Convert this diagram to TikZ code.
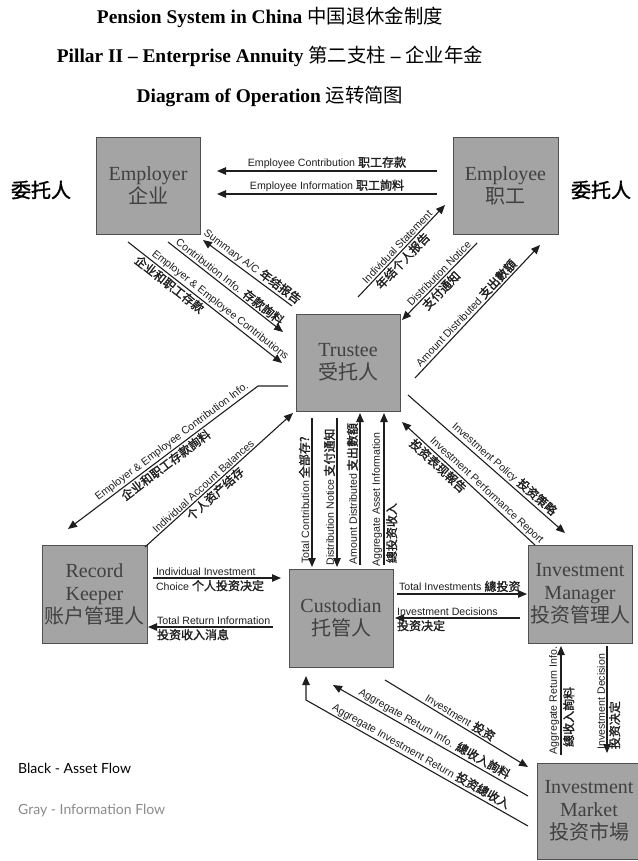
\documentclass[tikz,border=0pt]{standalone}
\usepackage{fontspec}
\setmainfont{Liberation Serif}
\newfontfamily\cjk{Noto Sans CJK SC}
\newfontfamily\cjkb[FakeBold=1.6]{Noto Sans CJK SC}
\newfontfamily\arialf{Liberation Sans}
\newfontfamily\legendf{Lato}
\usetikzlibrary{arrows.meta}
\definecolor{boxfill}{HTML}{A4A4A4}
\definecolor{boxborder}{HTML}{505050}
\definecolor{boxtext}{HTML}{404040}
\definecolor{ink}{HTML}{1E1E1E}
\definecolor{legendgray}{HTML}{8A8A8A}
\newcommand\zh[1]{{\cjkb\fontsize{12}{14}\selectfont #1}}
\newcommand\bzh[1]{{\cjk\mdseries #1}}
\begin{document}
\begin{tikzpicture}[x=1pt,y=-1pt,
  box/.style={draw=boxborder, line width=1pt, fill=boxfill, minimum width=104pt,
    minimum height=97pt, inner sep=0pt, text=boxtext, align=center,
    font=\fontsize{20}{23}\selectfont},
  flowto/.style={draw=ink, line width=1.1pt, -{Triangle[length=9pt,width=7.5pt]}},
  flowfrom/.style={draw=ink, line width=1.1pt, {Triangle[length=9pt,width=7.5pt]}-},
  lab/.style={font=\arialf\fontsize{10.6}{12}\selectfont, text=ink, inner sep=1.5pt},
  title/.style={font=\bfseries\fontsize{19.4}{22}\selectfont, anchor=base},
  side/.style={font=\cjkb\fontsize{20}{22}\selectfont},
  legend/.style={font=\legendf\fontsize{14}{16}\selectfont, anchor=west, inner sep=0pt}
  ]
\useasboundingbox (0,0) rectangle (637,861);

% titles
\node[title] (t1) at (270,24) {Pension System in China \bzh{中国退休金制度}};
\node[title] (t2) at (270,63) {Pillar II -- Enterprise Annuity \bzh{第二支柱} -- \bzh{企业年金}};
\node[title] (t3) at (270,103) {Diagram of Operation \bzh{运转简图}};

% boxes
\node[box] (employer) at (148,186) {Employer\\\bzh{企业}};
\node[box, minimum width=105pt] (employee) at (505.5,186) {Employee\\\bzh{职工}};
\node[box] (trustee) at (348,362.5) {Trustee\\\bzh{受托人}};
\node[box, minimum width=105pt, minimum height=98pt] (rk) at (94.5,594) {Record\\Keeper\\\bzh{账户管理人}};
\node[box, minimum height=98pt] (custodian) at (341,618) {Custodian\\\bzh{托管人}};
\node[box, minimum height=98pt] (manager) at (580,594) {Investment\\Manager\\\bzh{投资管理人}};
\node[box, minimum height=96pt] (market) at (589,811) {Investment\\Market\\\bzh{投资市場}};

\node[side] (wtl) at (41,190) {委托人};
\node[side] (wtr) at (601,190) {委托人};

% connector end points
\coordinate (a1r) at (437,171); \coordinate (a1l) at (217,171);
\coordinate (a2r) at (437,194); \coordinate (a2l) at (217,194);
\coordinate (b1l) at (203,240); \coordinate (b1r) at (292,306);
\coordinate (b2l) at (168,242); \coordinate (b2r) at (283,332);
\coordinate (b3l) at (128,242); \coordinate (b3r) at (282,363);
\coordinate (c1l) at (358,297); \coordinate (c1r) at (445,205);
\coordinate (c2l) at (402,320); \coordinate (c2r) at (477,243);
\coordinate (c3l) at (415,378); \coordinate (c3r) at (540,245);
\coordinate (d1l) at (408,395); \coordinate (d1r) at (565,533);
\coordinate (d2l) at (402,422); \coordinate (d2r) at (535,545);
\coordinate (e1a) at (68,529); \coordinate (e1b) at (258,386); \coordinate (e1c) at (288,386);
\coordinate (e2l) at (145,547); \coordinate (e2r) at (293,413);
\coordinate (f1b) at (312,567); \coordinate (f1t) at (312,418);
\coordinate (f2b) at (337,567); \coordinate (f2t) at (337,418);
\coordinate (f3b) at (360,565); \coordinate (f3t) at (360,413);
\coordinate (f4b) at (384,565); \coordinate (f4t) at (384,413);
\coordinate (g1l) at (153,578); \coordinate (g1r) at (281,578);
\coordinate (g2l) at (148,627); \coordinate (g2r) at (273,627);
\coordinate (h1l) at (397,594); \coordinate (h1r) at (527,594);
\coordinate (h2l) at (395,618); \coordinate (h2r) at (520,618);
\coordinate (i1b) at (561,755); \coordinate (i1t) at (561,646);
\coordinate (i2b) at (607,753); \coordinate (i2t) at (607,646);
\coordinate (j1l) at (385,680); \coordinate (j1r) at (528,767);
\coordinate (j2l) at (333,685); \coordinate (j2r) at (528,796);
\coordinate (j3a) at (306,676); \coordinate (j3b) at (306,700); \coordinate (j3c) at (528,826);

% Employee -> Employer
\draw[flowfrom] (a1l) -- node[lab, above] {Employee Contribution \zh{职工存款}} (a1r);
\draw[flowfrom] (a2l) -- node[lab, above] {Employee Information \zh{职工詢料}} (a2r);

% Employer <-> Trustee
\draw[flowfrom] (b1l) -- node[lab, sloped, above] {Summary A/C \zh{年结报告}} (b1r);
\draw[flowto] (b2l) -- node[lab, sloped, above] {Contribution Info. \zh{存款詢料}} (b2r);
\draw[flowto] (b3l) -- node[lab, sloped, above, pos=0.57] {Employer \& Employee Contributions}
  node[lab, sloped, below, pos=0.3] {\zh{企业和职工存款}} (b3r);

% Trustee <-> Employee
\draw[flowto] (c1l) -- node[lab, sloped, above, pos=0.5] {Individual Statement}
  node[lab, sloped, below, pos=0.45] {\zh{年结个人报告}} (c1r);
\draw[flowfrom] (c2l) -- node[lab, sloped, above, pos=0.55] {Distribution Notice}
  node[lab, sloped, below, pos=0.45] {\zh{支付通知}} (c2r);
\draw[flowto] (c3l) -- node[lab, sloped, above, pos=0.45] {Amount Distributed \zh{支出數額}} (c3r);

% Trustee <-> Investment Manager
\draw[flowto] (d1l) -- node[lab, sloped, above, pos=0.58] {Investment Policy \zh{投资策略}} (d1r);
\draw[flowfrom] (d2l) -- node[lab, sloped, above, pos=0.6] {Investment Performance Report}
  node[lab, sloped, below, pos=0.31] {\zh{投资表现報告}} (d2r);

% Trustee <-> Record Keeper
\draw[flowfrom] (e1a) -- node[lab, sloped, above, pos=0.57] {Employer \& Employee Contribution Info.}
  node[lab, sloped, below, pos=0.49] {\zh{企业和职工存款詢料}} (e1b) -- (e1c);
\draw[flowto] (e2l) -- node[lab, sloped, above, pos=0.42] {Individual Account Balances}
  node[lab, sloped, below, pos=0.44] {\zh{个人资产结存}} (e2r);

% Trustee <-> Custodian
\draw[flowfrom] (f1b) -- node[lab, sloped, above, pos=0.45] {Total Contribution \zh{全部存?}} (f1t);
\draw[flowfrom] (f2b) -- node[lab, sloped, above, pos=0.47] {Distribution Notice \zh{支付通知}} (f2t);
\draw[flowto] (f3b) -- node[lab, sloped, above, pos=0.47] {Amount Distributed \zh{支出數額}} (f3t);
\draw[flowto] (f4b) -- node[lab, sloped, above, pos=0.43] {Aggregate Asset Information}
  node[lab, sloped, below, pos=0.21] {\zh{總投资收入}} (f4t);

% Record Keeper <-> Custodian
\draw[flowto] (g1l) -- node[lab, pos=0, anchor=south west, xshift=1pt] {Individual Investment}
  node[lab, pos=0, anchor=north west, xshift=1pt] {Choice \zh{个人投资决定}} (g1r);
\draw[flowfrom] (g2l) -- node[lab, pos=0, anchor=south west, xshift=7pt] {Total Return Information}
  node[lab, pos=0, anchor=north west, xshift=7pt] {\zh{投资收入消息}} (g2r);

% Custodian <-> Investment Manager
\draw[flowto] (h1l) -- node[lab, pos=0, anchor=south west] {Total Investments \zh{總投资}} (h1r);
\draw[flowfrom] (h2l) -- node[lab, pos=0, anchor=south west] {Investment Decisions}
  node[lab, pos=0, anchor=north west] {\zh{投资决定}} (h2r);

% Investment Manager <-> Investment Market
\draw[flowto] (i1b) -- node[lab, sloped, above, pos=0.5] {Aggregate Return Info.}
  node[lab, sloped, below, pos=0.35] {\zh{總收入詢料}} (i1t);
\draw[flowfrom] (i2b) -- node[lab, sloped, above, pos=0.48] {Investment Decision}
  node[lab, sloped, below, pos=0.26] {\zh{投资决定}} (i2t);

% Custodian <-> Investment Market
\draw[flowto] (j1l) -- node[lab, sloped, above, pos=0.5] {Investment \zh{投资}} (j1r);
\draw[flowfrom] (j2l) -- node[lab, sloped, above, pos=0.5] {Aggregate Return Info. \zh{總收入詢料}} (j2r);
\draw[flowfrom] (j3a) -- (j3b) -- node[lab, sloped, above, pos=0.5] {Aggregate Investment Return \zh{投资總收入}} (j3c);

% legend
\node[legend, text=black] (leg1) at (18,768) {Black - Asset Flow};
\node[legend, text=legendgray] (leg2) at (18,811) {Gray - Information Flow};
\end{tikzpicture}
\end{document}
